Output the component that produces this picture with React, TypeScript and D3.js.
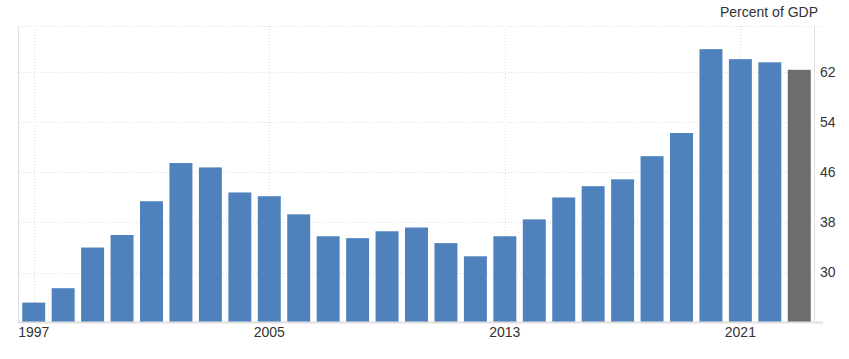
import React, { useRef, useEffect } from 'react';
import * as d3 from 'd3';

// Government debt, percent of GDP
const years = [
  1997, 1998, 1999, 2000, 2001, 2002, 2003, 2004, 2005, 2006, 2007, 2008, 2009, 2010,
  2011, 2012, 2013, 2014, 2015, 2016, 2017, 2018, 2019, 2020, 2021, 2022, 2023,
];
const values = [
  25.2, 27.5, 34.0, 36.0, 41.4, 47.5, 46.8, 42.8, 42.2, 39.3, 35.8, 35.5, 36.6, 37.2,
  34.7, 32.6, 35.8, 38.5, 42.0, 43.8, 44.9, 48.6, 52.3, 65.7, 64.1, 63.6, 62.4,
];
const yTicks = [30, 38, 46, 54, 62];
const xTickYears = [1997, 2005, 2013, 2021];
const forecastYear = 2023;

const W = 849;
const H = 359;

const App = () => {
  const svgRef = useRef<SVGSVGElement>(null);

  useEffect(() => {
    const svg = d3.select(svgRef.current);
    svg.selectAll('*').remove();

    const left = 19, right = 814, top = 26, bottom = 322;
    const font = 'Arial, "Liberation Sans", sans-serif';

    const x = d3.scaleBand<number>()
      .domain(years)
      .range([left, right])
      .paddingInner(0.22)
      .paddingOuter(0.11);

    const y = d3.scaleLinear()
      .domain([22.1, 69.4])
      .range([bottom, top]);

    const data = years.map((yr, i) => ({ yr, v: values[i] }));

    // horizontal grid
    svg.append('g')
      .selectAll('line')
      .data(yTicks)
      .enter().append('line')
      .attr('x1', left).attr('x2', 823)
      .attr('y1', d => Math.round(y(d)) + 0.5).attr('y2', d => Math.round(y(d)) + 0.5)
      .attr('stroke', '#dcdcdc')
      .attr('stroke-dasharray', '1,2');

    // top border (dotted)
    svg.append('line')
      .attr('x1', left).attr('x2', 823)
      .attr('y1', top + 0.5).attr('y2', top + 0.5)
      .attr('stroke', '#dcdcdc')
      .attr('stroke-dasharray', '1,2');

    // vertical grid at labelled years
    svg.append('g')
      .selectAll('line')
      .data(xTickYears)
      .enter().append('line')
      .attr('x1', d => Math.round(x(d)! + x.bandwidth() / 2) + 0.5)
      .attr('x2', d => Math.round(x(d)! + x.bandwidth() / 2) + 0.5)
      .attr('y1', top).attr('y2', bottom)
      .attr('stroke', '#dcdcdc')
      .attr('stroke-dasharray', '1,2');

    // bars
    svg.append('g')
      .selectAll('rect')
      .data(data)
      .enter().append('rect')
      .attr('x', d => x(d.yr)!)
      .attr('width', x.bandwidth())
      .attr('y', d => y(d.v))
      .attr('height', d => bottom - y(d.v))
      .attr('fill', d => (d.yr === forecastYear ? '#6d6d6d' : '#4f81bd'));

    // axis lines
    svg.append('line')
      .attr('x1', left - 0.5).attr('x2', left - 0.5)
      .attr('y1', top).attr('y2', bottom)
      .attr('stroke', '#e0e0e0');
    svg.append('line')
      .attr('x1', right + 0.5).attr('x2', right + 0.5)
      .attr('y1', top).attr('y2', bottom)
      .attr('stroke', '#e0e0e0');
    svg.append('line')
      .attr('x1', left - 1).attr('x2', 823)
      .attr('y1', bottom + 0.5).attr('y2', bottom + 0.5)
      .attr('stroke', '#e0e0e0')
      .attr('stroke-width', 2);

    // y labels (right)
    svg.append('g')
      .selectAll('text')
      .data(yTicks)
      .enter().append('text')
      .attr('x', 820)
      .attr('y', d => y(d))
      .attr('dy', '0.35em')
      .style('font-family', font)
      .style('font-size', '14px')
      .attr('fill', '#333')
      .text(d => d);

    // x labels
    svg.append('g')
      .selectAll('text')
      .data(xTickYears)
      .enter().append('text')
      .attr('x', d => x(d)! + x.bandwidth() / 2)
      .attr('y', 337)
      .attr('text-anchor', 'middle')
      .style('font-family', font)
      .style('font-size', '14px')
      .attr('fill', '#333')
      .text(d => d);

    // unit label
    svg.append('text')
      .attr('x', 818)
      .attr('y', 17)
      .attr('text-anchor', 'end')
      .style('font-family', font)
      .style('font-size', '14px')
      .attr('fill', '#333')
      .text('Percent of GDP');
  }, []);

  return (
    <svg
      ref={svgRef}
      width={W}
      height={H}
      style={{ position: 'absolute', left: 0, top: 0, background: '#fff' }}
    />
  );
};

export default App;
